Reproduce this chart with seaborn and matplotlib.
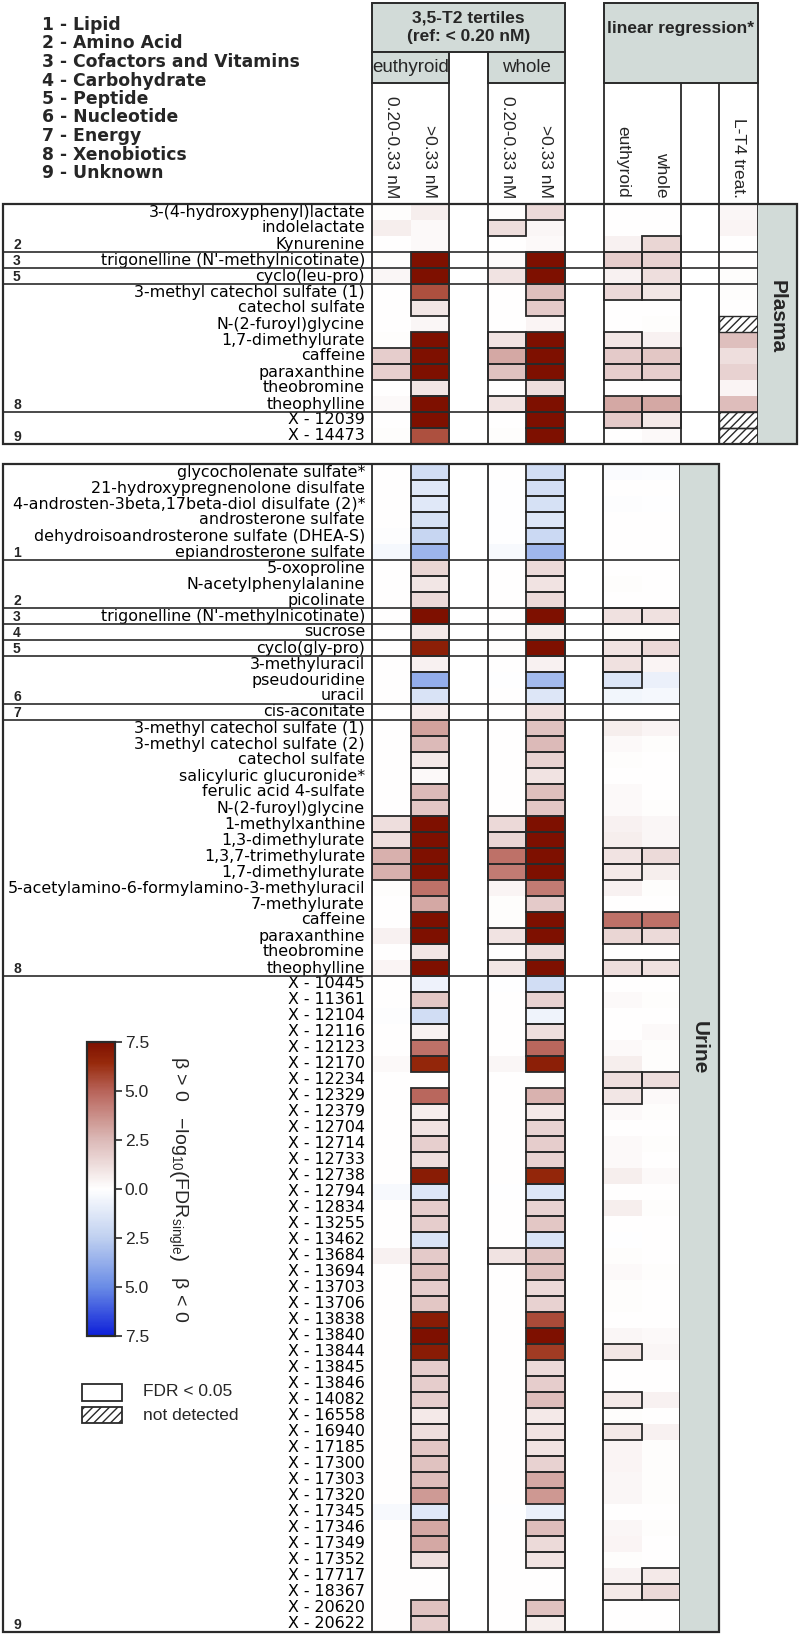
import numpy as np
import pandas as pd
import matplotlib
matplotlib.use('Agg')
import matplotlib.pyplot as plt
import seaborn as sns
from matplotlib.colors import LinearSegmentedColormap
from matplotlib.patches import Rectangle
from matplotlib.ticker import FuncFormatter
from matplotlib.transforms import blended_transform_factory

nan = np.nan
SAT = 9.0  # beyond colour scale -> darkest red

category_names = ['1 - Lipid', '2 - Amino Acid', '3 - Cofactors and Vitamins', '4 - Carbohydrate',
                  '5 - Peptide', '6 - Nucleotide', '7 - Energy', '8 - Xenobiotics', '9 - Unknown']

# ---------------- plasma ----------------
plasma_labels = ['3-(4-hydroxyphenyl)lactate', 'indolelactate', 'Kynurenine',
                 "trigonelline (N'-methylnicotinate)", 'cyclo(leu-pro)', '3-methyl catechol sulfate (1)',
                 'catechol sulfate', 'N-(2-furoyl)glycine', '1,7-dimethylurate', 'caffeine', 'paraxanthine',
                 'theobromine', 'theophylline', 'X - 12039', 'X - 14473']
plasma_groups = [2, 2, 2, 3, 5, 8, 8, 8, 8, 8, 8, 8, 8, 9, 9]
plasma_eu_mid = [0.1, 0.6, 0.0, 0.1, 0.3, 0.0, 0.0, 0.0, 0.1, 1.8, 1.7, 0.0, 0.2, 0.0, 0.1]
plasma_eu_high = [0.6, 0.2, 0.2, SAT, SAT, 5.5, 0.9, 0.3, SAT, SAT, SAT, 0.9, SAT, SAT, 5.5]
plasma_wh_mid = [0.1, 1.2, 0.0, 0.2, 1.0, 0.0, 0.0, 0.0, 1.0, 3.0, 2.2, 0.0, 1.0, 0.0, 0.1]
plasma_wh_high = [1.3, 0.3, 0.2, SAT, SAT, 2.3, 1.9, 0.4, SAT, SAT, SAT, 1.2, SAT, SAT, SAT]
plasma_lin_eu = [0.0, 0.0, 0.5, 1.8, 0.5, 1.4, 0.0, 0.0, 0.9, 1.9, 1.8, 0.0, 3.0, 1.9, 0.0]
plasma_lin_wh = [0.0, 0.0, 1.5, 1.6, 1.2, 0.9, 0.0, 0.1, 0.5, 2.0, 1.8, 0.0, 3.0, 0.8, 0.2]
plasma_lt4 = [0.3, 0.4, 0.0, 0.0, 0.1, 0.1, 0.0, nan, 2.3, 1.2, 1.6, 0.4, 2.4, nan, nan]
# FDR < 0.05 flags: eu_mid, eu_high, wh_mid, wh_high, lin_eu, lin_wh, lt4
plasma_sig = ['0001000', '0010000', '0000010', '0101110', '0101010', '0101110', '0101000', '0000000',
              '0111100', '1111110', '1111110', '0101000', '0111110', '0101110', '0101000']

# ---------------- urine ----------------
urine_labels = ['glycocholenate sulfate*', '21-hydroxypregnenolone disulfate',
                '4-androsten-3beta,17beta-diol disulfate (2)*', 'androsterone sulfate',
                'dehydroisoandrosterone sulfate (DHEA-S)', 'epiandrosterone sulfate',
                '5-oxoproline', 'N-acetylphenylalanine', 'picolinate',
                "trigonelline (N'-methylnicotinate)", 'sucrose', 'cyclo(gly-pro)',
                '3-methyluracil', 'pseudouridine', 'uracil', 'cis-aconitate',
                '3-methyl catechol sulfate (1)', '3-methyl catechol sulfate (2)', 'catechol sulfate',
                'salicyluric glucuronide*', 'ferulic acid 4-sulfate', 'N-(2-furoyl)glycine',
                '1-methylxanthine', '1,3-dimethylurate', '1,3,7-trimethylurate', '1,7-dimethylurate',
                '5-acetylamino-6-formylamino-3-methyluracil', '7-methylurate', 'caffeine',
                'paraxanthine', 'theobromine', 'theophylline',
                'X - 10445', 'X - 11361', 'X - 12104', 'X - 12116', 'X - 12123', 'X - 12170',
                'X - 12234', 'X - 12329', 'X - 12379', 'X - 12704', 'X - 12714', 'X - 12733',
                'X - 12738', 'X - 12794', 'X - 12834', 'X - 13255', 'X - 13462', 'X - 13684',
                'X - 13694', 'X - 13703', 'X - 13706', 'X - 13838', 'X - 13840', 'X - 13844',
                'X - 13845', 'X - 13846', 'X - 14082', 'X - 16558', 'X - 16940', 'X - 17185',
                'X - 17300', 'X - 17303', 'X - 17320', 'X - 17345', 'X - 17346', 'X - 17349',
                'X - 17352', 'X - 17717', 'X - 18367', 'X - 20620', 'X - 20622']
urine_groups = [1] * 6 + [2] * 3 + [3] + [4] + [5] + [6] * 3 + [7] + [8] * 16 + [9] * 41
urine_eu_mid = [0.0, 0.0, 0.0, 0.0, -0.1, -0.4, 0.0, 0.0, 0.0, 0.0, 0.0, 0.05, 0.0, 0.0, 0.0, 0.0,
                0.0, 0.0, 0.0, 0.0, 0.0, 0.0, 1.2, 1.2, 2.8, 2.8, 0.1, 0.05, 0.0, 0.5, 0.0, 0.4,
                0.0, 0.0, -0.1, 0.0, 0.0, 0.2, 0.0, 0.0, 0.0, 0.0, 0.0, 0.0, 0.0, -0.3, 0.0, 0.0,
                0.0, 0.5, 0.0, 0.0, 0.0, 0.0, 0.0, 0.0, 0.0, 0.0, 0.0, 0.0, 0.0, 0.0, 0.0, 0.0,
                0.0, -0.3, 0.0, 0.0, 0.0, 0.0, 0.0, 0.0, 0.0]
urine_eu_high = [-1.8, -1.2, -1.2, -1.6, -2.2, -3.5, 1.5, 0.9, 1.3, SAT, 0.8, 6.9, 0.5, -3.8, -1.5, 0.7,
                 3.2, 2.5, 0.8, 0.2, 2.5, 2.0, SAT, SAT, SAT, SAT, 4.6, 3.0, SAT, SAT, 0.9, SAT,
                 -0.7, 2.0, -1.8, 0.5, 4.6, 6.6, 0.0, 4.9, 0.6, 1.0, 1.7, 1.2, 7.0, -1.3, 1.8, 1.8,
                 -1.5, 1.9, 2.2, 1.8, 2.0, 7.0, SAT, 7.0, 1.8, 1.8, 1.8, 0.8, 1.2, 2.0, 2.2, 2.4,
                 3.4, -1.2, 3.0, 3.0, 1.2, 0.0, 0.05, 2.2, 1.8]
urine_wh_mid = [0.0, -0.05, -0.05, -0.05, -0.05, -0.3, 0.0, 0.0, 0.0, 0.0, 0.0, 0.1, 0.0, -0.05, 0.0,
                0.0, 0.0, 0.05, 0.0, 0.0, 0.05, 0.05, 1.4, 1.5, 4.6, 4.3, 0.4, 0.1, 0.1, 1.0, 0.0,
                0.9, -0.05, 0.0, 0.0, 0.05, 0.0, 0.3, 0.0, 0.0, 0.0, 0.05, 0.0, 0.0, 0.0, -0.05,
                0.0, 0.05, 0.0, 1.0, 0.0, 0.0, 0.05, 0.0, 0.0, 0.05, 0.0, 0.05, 0.0, 0.0, 0.0, 0.0,
                0.0, 0.05, 0.0, -0.05, 0.05, 0.0, 0.0, 0.0, 0.0, 0.05, 0.0]
urine_wh_high = [-1.8, -1.7, -1.6, -1.3, -2.0, -3.4, 1.3, 1.0, 1.3, SAT, 0.6, SAT, 0.5, -3.3, -1.3, 1.1,
                 2.2, 2.5, 1.6, 1.0, 2.3, 2.0, SAT, SAT, SAT, SAT, 4.3, 1.9, SAT, SAT, 1.2, SAT,
                 -1.8, 1.6, -0.6, 1.2, 4.9, 6.9, 0.1, 2.7, 0.8, 1.6, 1.8, 1.6, 6.6, -1.3, 1.6, 2.0,
                 -1.5, 2.2, 2.2, 1.4, 1.6, 5.6, 7.6, 6.0, 1.3, 1.8, 2.4, 0.8, 1.0, 1.0, 1.6, 3.0,
                 3.5, -0.8, 2.4, 1.3, 1.0, 0.0, 0.05, 2.2, 0.6]
urine_lin_eu = [-0.2, 0.0, -0.1, 0.0, 0.0, 0.0, 0.05, 0.1, 0.0, 1.1, 0.1, 1.0, 1.1, -1.3, -0.5, 0.0,
                0.6, 0.2, 0.1, 0.05, 0.2, 0.2, 0.5, 0.6, 1.0, 0.8, 0.5, 0.0, 4.6, 1.5, 0.05, 1.2,
                0.0, 0.2, 0.0, 0.0, 0.2, 0.6, 1.2, 0.9, 0.2, 0.0, 0.2, 0.2, 0.6, 0.0, 0.6, 0.0,
                -0.05, 0.1, 0.2, 0.1, 0.1, 0.0, 0.3, 0.9, 0.05, 0.0, 0.8, 0.1, 0.8, 0.4, 0.4, 0.3,
                0.3, 0.0, 0.3, 0.4, 0.1, 0.5, 0.8, 0.05, 0.05]
urine_lin_wh = [-0.15, 0.0, -0.05, 0.0, 0.0, 0.0, 0.0, 0.0, 0.0, 1.1, 0.1, 1.4, 0.4, -0.8, -0.4, 0.0,
                0.4, 0.1, 0.05, 0.0, 0.05, 0.1, 0.3, 0.3, 1.3, 0.6, 0.1, 0.0, 4.6, 1.3, 0.05, 1.1,
                0.0, 0.1, 0.0, 0.2, 0.1, 0.1, 1.2, 0.2, 0.1, 0.0, 0.1, 0.05, 0.2, 0.0, 0.1, 0.0,
                0.0, 0.0, 0.1, 0.0, 0.0, 0.0, 0.2, 0.3, 0.0, 0.0, 0.5, 0.0, 0.5, 0.1, 0.1, 0.1,
                0.1, 0.0, 0.1, 0.05, 0.0, 0.8, 1.4, 0.0, 0.0]
# FDR < 0.05 flags: eu_mid, eu_high, wh_mid, wh_high, lin_eu, lin_wh
urine_sig = ['010100'] * 9 + ['010111', '010100', '010111', '010110', '010110', '010100', '010100',
             '010100', '010100', '010100', '010100', '010100', '010100', '111100', '111100',
             '111111', '111110', '010100', '010100', '010111', '011111', '010100', '011111',
             '010100', '010100', '010100', '010100', '010100', '010100', '000011', '010110',
             '010100', '010100', '010100', '010100', '010100', '010100', '010100', '010100',
             '010100', '011100', '010100', '010100', '010100', '010100', '010100', '010110',
             '010100', '010100', '010110', '010100', '010110', '010100', '010100', '010100',
             '010100', '010000', '010100', '010100', '010100', '000001', '000011', '010100',
             '010100']

col_text = ['0.20-0.33 nM', '>0.33 nM', '0.20-0.33 nM', '>0.33 nM', 'euthyroid', 'whole', 'L-T4 treat.']
cbar_ticks = [-7.5, -5.0, -2.5, 0.0, 2.5, 5.0, 7.5]

# ---------------- style ----------------
sns.set_theme(style='white')
plt.rcParams['font.family'] = ['Liberation Sans', 'DejaVu Sans']
plt.rcParams['mathtext.fontset'] = 'custom'
plt.rcParams['mathtext.rm'] = 'Liberation Sans'
plt.rcParams['mathtext.it'] = 'Liberation Sans:italic'
plt.rcParams['mathtext.bf'] = 'Liberation Sans:bold'
plt.rcParams['hatch.linewidth'] = 1.0

FS = 12.5
WIDE = ['DejaVu Sans']  # row labels are drawn wider than the header text
LINE = '#2a2a2a'
GRAY = '#d2dbd8'
cmap = LinearSegmentedColormap.from_list('fdr', [
    (0.0, '#0d1fd9'), (1 / 6, '#6a8ce6'), (1 / 3, '#bfd0f0'), (0.5, '#ffffff'),
    (2 / 3, '#dcbab8'), (5 / 6, '#b8645a'), (0.93, '#972a0c'), (1.0, '#7e1000')])

W, H = 800, 1637
fig = plt.figure(figsize=(W / 100, H / 100), dpi=100)


def fbox(x0, y0, x1, y1):
    return [x0 / W, 1 - y1 / H, (x1 - x0) / W, (y1 - y0) / H]


def fy(py):
    return 1 - py / H


def build(cols, layout):
    data = {}
    it = iter(cols)
    for i, kind in enumerate(layout):
        data[i] = next(it) if kind else [nan] * len(cols[0])
    return pd.DataFrame(data)


plasma_layout = [1, 1, 0, 1, 1, 0, 1, 1, 0, 1]
urine_layout = [1, 1, 0, 1, 1, 0, 1, 1]
plasma_df = build([plasma_eu_mid, plasma_eu_high, plasma_wh_mid, plasma_wh_high,
                   plasma_lin_eu, plasma_lin_wh, plasma_lt4], plasma_layout)
urine_df = build([urine_eu_mid, urine_eu_high, urine_wh_mid, urine_wh_high,
                  urine_lin_eu, urine_lin_wh], urine_layout)

ax_p = fig.add_axes(fbox(372, 204, 758, 444))
ax_u = fig.add_axes(fbox(372, 464, 680, 1632))
cax = fig.add_axes(fbox(87, 1042, 115, 1336))

sns.heatmap(plasma_df, ax=ax_p, cmap=cmap, vmin=-7.5, vmax=7.5, cbar=False,
            xticklabels=False, yticklabels=plasma_labels, linewidths=0)
sns.heatmap(urine_df, ax=ax_u, cmap=cmap, vmin=-7.5, vmax=7.5, cbar=True, cbar_ax=cax,
            cbar_kws={'ticks': cbar_ticks}, xticklabels=False, yticklabels=urine_labels, linewidths=0)


def decorate(ax, df, layout, sig, groups, ax_px_w, ax_px_h, header):
    pos = [i for i, k in enumerate(layout) if k]
    ax.tick_params(axis='y', length=0, pad=5)
    plt.setp(ax.get_yticklabels(), rotation=0, fontsize=11.4, color='black', family=WIDE)
    ax.set_xlabel('')
    ax.set_ylabel('')
    for s in ax.spines.values():
        s.set_visible(False)
    # significant cells and not-detected cells
    for r, flags in enumerate(sig):
        for k, f in enumerate(flags):
            c = pos[k]
            if np.isnan(df.iloc[r, c]):
                ax.add_patch(Rectangle((c, r), 1, 1, fill=False, hatch='////', ec=LINE, lw=1.0))
            elif f == '1':
                ax.add_patch(Rectangle((c, r), 1, 1, fill=False, ec=LINE, lw=1.3))
    # column frames
    edges = sorted({c for i, c in enumerate(pos) if i == 0 or pos[i - 1] != c - 1} |
                   {c + 1 for i, c in enumerate(pos) if i == len(pos) - 1 or pos[i + 1] != c + 1})
    top = 1 + (204 - 83) / ax_px_h if header else 1
    for e in edges:
        ax.axvline(e, ymin=0, ymax=top, color=LINE, lw=1.3, clip_on=False)
    # category separators and numbers
    tr = blended_transform_factory(fig.transFigure, ax.transData)
    for r in range(len(groups)):
        if r == len(groups) - 1 or groups[r + 1] != groups[r]:
            if r < len(groups) - 1:
                ax.axhline(r + 1, xmin=-369 / ax_px_w, xmax=1, color=LINE, lw=1.2, clip_on=False)
            ax.text(13 / W, r + 0.55, str(groups[r]), transform=tr, fontsize=10,
                    fontweight='bold', ha='left', va='center')


decorate(ax_p, plasma_df, plasma_layout, plasma_sig, plasma_groups, 386, 240, True)
decorate(ax_u, urine_df, urine_layout, urine_sig, urine_groups, 308, 1168, False)

# outer boxes
fig.add_artist(Rectangle((3 / W, fy(444)), 794 / W, 240 / H, transform=fig.transFigure,
                         fill=False, ec=LINE, lw=1.6))
fig.add_artist(Rectangle((3 / W, fy(1632)), 716 / W, 1168 / H, transform=fig.transFigure,
                         fill=False, ec=LINE, lw=1.6))

# side bands
for box, name, yc in [((758, 204, 797, 444), 'Plasma', 0.53), ((680, 464, 719, 1632), 'Urine', 0.5)]:
    bax = fig.add_axes(fbox(*box))
    bax.set_facecolor(GRAY)
    bax.set_xticks([])
    bax.set_yticks([])
    for s in bax.spines.values():
        s.set_visible(False)
    bax.text(0.5, yc, name, transform=bax.transAxes, rotation=270, ha='center', va='center',
             fontsize=15, fontweight='bold')

# header boxes
trh = blended_transform_factory(ax_p.transData, fig.transFigure)
for x0, w, y0, y1 in [(0, 5, 3, 52), (0, 2, 52, 83), (3, 2, 52, 83), (6, 4, 3, 83)]:
    fig.add_artist(Rectangle((x0, fy(y1)), w, fy(y0) - fy(y1), transform=trh,
                             fc=GRAY, ec=LINE, lw=1.4, clip_on=False))
fig.text(2.5, fy(27), '3,5-T2 tertiles\n(ref: < 0.20 nM)', transform=trh, ha='center', va='center',
         fontsize=FS, fontweight='bold', linespacing=1.25)
fig.text(1, fy(68), 'euthyroid', transform=trh, ha='center', va='center', fontsize=13.5)
fig.text(4, fy(68), 'whole', transform=trh, ha='center', va='center', fontsize=13.5)
fig.text(8, fy(28), 'linear regression*', transform=trh, ha='center', va='center',
         fontsize=FS, fontweight='bold')
for c, t in zip([0, 1, 3, 4, 6, 7, 9], col_text):
    fig.text(c + 0.5, fy(198), t, transform=trh, rotation=270, ha='center', va='bottom', fontsize=FS)

# category legend
for i, name in enumerate(category_names):
    fig.text(42 / W, fy(25 + 18.5 * i), name, fontsize=12.4, fontweight='bold', family=WIDE,
             ha='left', va='center')

# colorbar
cbar = ax_u.collections[0].colorbar
cbar.ax.yaxis.set_major_formatter(FuncFormatter(lambda v, p: f'{abs(v):.1f}'))
cbar.ax.tick_params(labelsize=FS, length=5, width=1.2, color=LINE, pad=2)
cbar.outline.set_linewidth(1.6)
cbar.outline.set_edgecolor(LINE)
cax.text(3.25, 0.5, r'β > 0   $-\mathrm{log}_{10}\left(\mathrm{FDR}_{\mathrm{single}}\right)$   β < 0',
         transform=cax.transAxes, rotation=270, ha='center', va='center', fontsize=14)

# FDR / not detected legend
fig.add_artist(Rectangle((82 / W, fy(1401)), 40 / W, 17 / H, transform=fig.transFigure,
                         fc='white', ec=LINE, lw=1.3))
fig.add_artist(Rectangle((82 / W, fy(1423)), 40 / W, 16 / H, transform=fig.transFigure,
                         fill=False, hatch='////', ec=LINE, lw=1.3))
fig.text(143 / W, fy(1392), 'FDR < 0.05', fontsize=FS, va='center')
fig.text(143 / W, fy(1415), 'not detected', fontsize=FS, va='center')

fig.savefig('out.png', dpi=100)
